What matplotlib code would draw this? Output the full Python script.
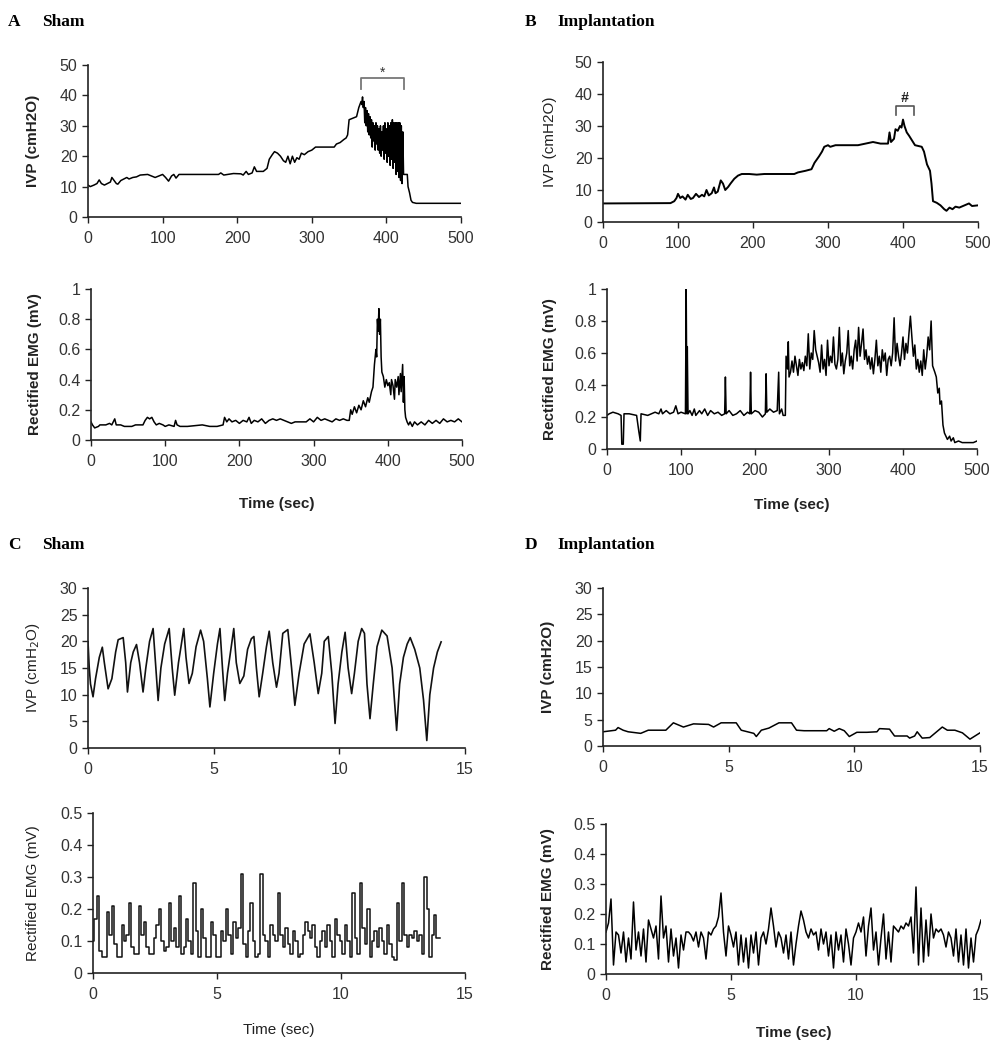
import numpy as np
import matplotlib
matplotlib.use('Agg')
import matplotlib.pyplot as plt
from matplotlib.ticker import FuncFormatter

plt.rcParams['font.family'] = ['Liberation Sans', 'DejaVu Sans']

# ---- A: sham, IVP (cmH2O) vs time (sec) ----
a_ivp_t = [0, 3, 8, 12, 15, 18, 22, 26, 30, 32, 35, 38, 40, 44, 48, 52, 55, 60, 65, 70, 80, 85, 90, 95,
           100, 104, 108, 112, 115, 118, 122, 130, 175, 178, 182, 195, 205, 208, 212, 215, 220, 223, 226,
           235, 240, 243, 247, 250, 254, 258, 262, 265, 268, 271, 274, 277, 280, 283, 286, 290, 295, 300,
           305, 330, 333, 338, 343, 346, 348, 350, 355, 360, 363, 366, 367, 368, 369,
           370, 371, 372, 373, 374, 375, 376, 377, 378, 379, 380, 381, 382, 383, 384, 385, 386, 387, 388,
           389, 390, 391, 392, 393, 394, 395, 396, 397, 398, 399, 400, 401, 402, 403, 404, 405, 406, 407,
           408, 409, 410, 411, 412, 413, 414, 415, 416, 417, 418, 419, 420, 421, 422, 423, 424, 428, 429,
           430, 431, 433, 435, 440, 500]
a_ivp_v = [10.5, 10, 10.5, 11, 12.2, 11, 10.5, 11, 11.5, 13, 12, 11, 10.8, 12, 12.5, 13, 12.5, 13, 13.2, 13.8,
           14, 13.5, 13, 13.5, 14, 13, 11.8, 13.5, 14, 12.8, 14, 14, 14, 14.5, 13.8, 14.3, 14.2, 13.8, 15, 14,
           14.5, 16.5, 15, 15, 16, 19, 20.5, 21.5, 21, 20, 18.5, 18, 20, 17.5, 20, 18, 19.5, 19, 21, 20.5,
           21.5, 22, 23, 23, 24, 24.5, 25.5, 26, 27, 32, 32.5, 33, 36, 38, 37, 39.5, 36,
           38, 31, 36, 30, 35, 28, 34, 27, 33, 26, 32, 23, 31, 25, 30, 22, 31, 24, 30,
           22, 29, 21, 30, 20, 28, 22, 30, 19, 31, 21, 29, 18, 31, 20, 30, 17, 31, 19,
           32, 16, 31, 18, 31, 14, 31, 15, 31, 13, 31, 12, 30, 11, 28, 14, 14, 14, 10,
           9, 8, 5.5, 4.8, 4.5, 4.5]

a_emg_t = [0, 2, 5, 10, 12, 20, 25, 28, 32, 34, 40, 45, 55, 60, 70, 73, 76, 79, 82, 85, 88, 92, 97, 100,
           105, 112, 114, 116, 120, 130, 150, 160, 170, 178, 180, 183, 186, 190, 195, 200, 205, 210, 213,
           216, 220, 225, 230, 235, 240, 245, 250, 255, 260, 265, 270, 275, 280, 290, 295, 300, 305, 310,
           315, 320, 325, 330, 335, 340, 345, 348, 350, 352, 355, 358, 361, 364, 367, 370, 373, 375, 378,
           380, 382, 384, 385, 386, 387, 388, 389, 390, 391, 392, 394, 396, 398, 400, 402, 404, 405, 407,
           409, 410, 412, 414, 415, 417, 418, 420, 421, 422, 423, 424, 426, 428, 430, 433, 436, 440, 445,
           450, 455, 460, 465, 470, 475, 480, 485, 490, 495, 500]
a_emg_v = [0.12, 0.1, 0.08, 0.09, 0.1, 0.1, 0.11, 0.1, 0.14, 0.1, 0.1, 0.09, 0.09, 0.1, 0.1, 0.13, 0.15,
           0.14, 0.15, 0.12, 0.1, 0.11, 0.1, 0.09, 0.1, 0.09, 0.13, 0.1, 0.09, 0.09, 0.1, 0.09, 0.09, 0.1,
           0.15, 0.12, 0.14, 0.12, 0.13, 0.11, 0.13, 0.12, 0.15, 0.11, 0.13, 0.12, 0.14, 0.11, 0.13, 0.14,
           0.13, 0.14, 0.13, 0.12, 0.11, 0.12, 0.12, 0.12, 0.14, 0.12, 0.15, 0.13, 0.14, 0.13, 0.12, 0.14,
           0.13, 0.14, 0.13, 0.13, 0.2, 0.17, 0.22, 0.18, 0.23, 0.2, 0.26, 0.22, 0.28, 0.25, 0.32,
           0.35, 0.5, 0.6, 0.55, 0.8, 0.72, 0.87, 0.7, 0.8, 0.55, 0.45, 0.42, 0.35, 0.4, 0.36, 0.38, 0.3,
           0.4, 0.36, 0.27, 0.4, 0.35, 0.42, 0.3, 0.44, 0.32, 0.5, 0.25, 0.42, 0.2, 0.15, 0.12, 0.1, 0.12,
           0.09, 0.12, 0.1, 0.12, 0.1, 0.13, 0.11, 0.13, 0.11, 0.14, 0.12, 0.13, 0.12, 0.14, 0.12]

# ---- B: implantation ----
b_ivp_t = [0, 90, 95, 98, 100, 103, 106, 110, 113, 117, 120, 124, 128, 132, 135, 138, 141, 145, 148, 150,
           153, 157, 160, 163, 167, 170, 175, 180, 185, 195, 205, 215, 255, 260, 270, 278, 282, 285, 288,
           292, 295, 300, 303, 310, 340, 350, 360, 370, 380, 382, 384, 388, 390, 393, 396, 398, 400, 402,
           405, 408, 412, 416, 425, 428, 432, 436, 438, 440, 445, 450, 455, 458, 462, 466, 470, 475, 480,
           488, 492, 500]
b_ivp_v = [5.8, 5.9, 6.5, 7.5, 8.8, 7.5, 8, 7, 8.5, 7.2, 7.5, 8.8, 7.8, 8.5, 8, 10, 8.3, 9, 10.8, 9,
           9.5, 13, 12, 10, 11, 12, 13.5, 14.5, 15, 15, 14.8, 15, 15, 15.5, 16, 16.5, 18.5, 19.5, 20.5,
           22, 23.5, 24, 23.5, 24, 24, 24.5, 25, 24.5, 24.5, 28, 25, 26, 29, 28.5, 30, 29.5, 32, 30,
           28, 27, 25.5, 24, 23.5, 22, 18, 16, 12, 6.5, 6, 5.2, 4, 3.5, 4.5, 4, 4.8, 4.5, 5,
           5.8, 5, 5.2]

b_emg_t = [0, 3, 8, 15, 19, 20, 22, 23, 30, 40, 43, 45, 46, 55, 60, 65, 70, 73, 75, 80, 85, 90, 93, 96,
           100, 106, 107, 108, 108.5, 109.5, 112, 115, 118, 120, 125, 128, 132, 136, 140, 145, 150, 155,
           159, 160, 161, 165, 170, 175, 180, 185, 190, 193, 194, 195, 200, 205, 210, 214, 215, 216, 220,
           225, 230, 232, 233, 236, 238, 241, 242, 244, 245, 246, 248,
           250, 252, 254, 256, 258, 260, 262, 264, 266, 268, 270, 272, 274, 276, 278, 280, 282, 284, 286,
           288, 290, 292, 294, 296, 298, 300, 302, 304, 306, 308, 310, 312, 314, 316, 318, 320, 322, 324,
           326, 328, 330, 332, 334, 336, 338, 340, 342, 344, 346, 348, 350, 352, 354, 356, 358, 360, 362,
           364, 366, 368, 370, 372, 374, 376, 378, 380, 382, 384, 386, 388, 390, 392, 394, 396, 398, 400,
           402, 404, 406, 408, 410, 412, 414, 416, 418, 420, 422, 424, 426, 428, 430, 432, 434, 436, 438,
           440, 443, 445, 447, 449, 450, 452, 454, 456, 458, 460, 463, 465, 468, 470, 475, 480, 490, 495,
           500]
b_emg_v = [0.21, 0.22, 0.23, 0.22, 0.21, 0.03, 0.03, 0.22, 0.22, 0.21, 0.11, 0.05, 0.22, 0.21, 0.22,
           0.23, 0.22, 0.25, 0.22, 0.24, 0.22, 0.23, 0.27, 0.22, 0.23, 0.22, 1.0, 0.22, 0.64, 0.22, 0.24,
           0.21, 0.25, 0.21, 0.24, 0.22, 0.25, 0.21, 0.24, 0.22, 0.23, 0.21, 0.22, 0.45, 0.22, 0.24, 0.21,
           0.22, 0.24, 0.21, 0.23, 0.22, 0.48, 0.22, 0.24, 0.23, 0.20, 0.22, 0.47, 0.23, 0.25, 0.23, 0.24,
           0.48, 0.22, 0.25, 0.21, 0.21, 0.58, 0.50, 0.67, 0.45, 0.48,
           0.55, 0.48, 0.58, 0.52, 0.46, 0.56, 0.50, 0.54, 0.49, 0.58, 0.52, 0.72, 0.50, 0.60, 0.56, 0.74,
           0.62, 0.58, 0.54, 0.48, 0.65, 0.50, 0.56, 0.46, 0.68, 0.52, 0.58, 0.54, 0.70, 0.53, 0.50, 0.56,
           0.76, 0.52, 0.60, 0.47, 0.55, 0.60, 0.74, 0.52, 0.58, 0.50, 0.62, 0.68, 0.55, 0.76, 0.58, 0.66,
           0.75, 0.56, 0.62, 0.53, 0.58, 0.50, 0.57, 0.47, 0.56, 0.68, 0.52, 0.58, 0.48, 0.62, 0.55, 0.60,
           0.46, 0.56, 0.58, 0.52, 0.60, 0.82, 0.55, 0.66, 0.58, 0.52, 0.60, 0.70, 0.56, 0.66, 0.60, 0.72,
           0.83, 0.70, 0.58, 0.65, 0.50, 0.56, 0.48, 0.55, 0.46, 0.62, 0.50, 0.58, 0.70, 0.62, 0.80,
           0.52, 0.48, 0.45, 0.35, 0.38, 0.28, 0.30, 0.15, 0.10, 0.08, 0.06, 0.08, 0.05, 0.07, 0.04, 0.05,
           0.04, 0.04, 0.04, 0.05]

# ---- C: sham, short time window ----
c_ivp_t = [0.0, 0.05, 0.1, 0.2, 0.3, 0.45, 0.57, 0.65, 0.8, 0.95, 1.1, 1.2, 1.4, 1.5, 1.57, 1.7, 1.8,
           1.93, 2.05, 2.19, 2.3, 2.45, 2.59, 2.7, 2.79, 2.9, 3.05, 3.23, 3.35, 3.45, 3.6, 3.7, 3.81, 3.9,
           4.02, 4.15, 4.3, 4.48, 4.6, 4.75, 4.85, 5.0, 5.15, 5.25, 5.35, 5.44, 5.55, 5.7, 5.8, 5.9, 6.04,
           6.2, 6.35, 6.5, 6.6, 6.7, 6.81, 6.95, 7.1, 7.21, 7.35, 7.5, 7.6, 7.75, 7.95, 8.1, 8.23, 8.4,
           8.6, 8.83, 9.0, 9.16, 9.3, 9.4, 9.56, 9.7, 9.83, 9.95, 10.1, 10.23, 10.35, 10.49, 10.6, 10.75,
           10.89, 11.0, 11.1, 11.22, 11.35, 11.5, 11.69, 11.9, 12.1, 12.28, 12.4, 12.55, 12.7, 12.82,
           13.0, 13.2, 13.35, 13.48, 13.6, 13.75, 13.9, 14.05]
c_ivp_v = [19.9, 15, 12, 9.6, 13, 17, 18.9, 16, 11.1, 13, 18, 20.3, 20.7, 16, 10.5, 16, 18, 19.4, 16,
           10.5, 15, 20, 22.4, 15, 8.9, 15, 19.5, 22.4, 15, 9.9, 16, 19, 22.4, 17, 12.1, 14, 19, 22.1, 20,
           13, 7.7, 14, 19.5, 22.4, 15, 8.9, 14, 19, 22.4, 16, 12.1, 13.5, 18.5, 20.5, 20.9, 15, 9.6, 14,
           19, 21.9, 16, 11.4, 14, 21.5, 22.2, 15, 8.0, 14, 19.5, 21.4, 16, 10.2, 14, 20, 20.9, 14, 4.6,
           12, 18, 21.7, 15, 10.2, 14, 20, 22.4, 21.5, 12, 5.5, 12, 19, 22.1, 21, 15, 3.3, 12, 17, 19.5,
           20.7, 18.5, 15, 9, 1.4, 10, 15, 18, 19.9]

c_emg_t = np.arange(0, 14.05, 0.1)
c_emg_v = [0.10, 0.17, 0.24, 0.07, 0.05, 0.05, 0.19, 0.12, 0.21, 0.09, 0.05, 0.05, 0.15, 0.10, 0.12,
           0.22, 0.08, 0.06, 0.06, 0.21, 0.12, 0.16, 0.08, 0.06, 0.06, 0.11, 0.15, 0.20, 0.10, 0.07,
           0.08, 0.22, 0.10, 0.14, 0.08, 0.24, 0.06, 0.08, 0.17, 0.10, 0.06, 0.28, 0.13, 0.05, 0.20,
           0.11, 0.05, 0.05, 0.16, 0.12, 0.05, 0.05, 0.13, 0.10, 0.20, 0.12, 0.06, 0.16, 0.11, 0.14,
           0.31, 0.09, 0.05, 0.13, 0.22, 0.10, 0.05, 0.06, 0.31, 0.12, 0.10, 0.05, 0.15, 0.12, 0.10,
           0.25, 0.12, 0.08, 0.14, 0.09, 0.06, 0.13, 0.10, 0.05, 0.06, 0.12, 0.16, 0.13, 0.11, 0.15,
           0.08, 0.05, 0.10, 0.13, 0.08, 0.15, 0.10, 0.05, 0.17, 0.12, 0.10, 0.06, 0.15, 0.10, 0.05,
           0.25, 0.11, 0.06, 0.28, 0.14, 0.09, 0.20, 0.05, 0.10, 0.13, 0.08, 0.14, 0.10, 0.06, 0.15,
           0.09, 0.05, 0.04, 0.22, 0.10, 0.28, 0.12, 0.08, 0.12, 0.11, 0.13, 0.10, 0.12, 0.06, 0.30,
           0.20, 0.05, 0.12, 0.18, 0.11, 0.11]

# ---- D: implantation, short time window ----
d_ivp_t = [0, 0.5, 0.6, 0.8, 1.0, 1.5, 1.8, 2.5, 2.8, 3.2, 3.6, 4.2, 4.4, 4.7, 5.3, 5.5, 6.0, 6.1, 6.3,
           6.6, 7.0, 7.5, 7.7, 8.0, 8.9, 9.0, 9.2, 9.4, 9.6, 9.8, 10.1, 10.5, 10.9, 11.0, 11.4, 11.6, 12.1,
           12.2, 12.4, 12.5, 12.7, 13.0, 13.5, 13.7, 14.0, 14.3, 14.6, 15.0]
d_ivp_v = [2.7, 3.0, 3.5, 3.0, 2.7, 2.4, 3.0, 3.0, 4.4, 3.6, 4.2, 4.1, 3.6, 4.4, 4.4, 3.0, 2.4, 1.8, 3.0,
           3.4, 4.4, 4.4, 3.0, 2.9, 2.9, 3.3, 2.8, 3.3, 2.9, 1.8, 2.6, 2.6, 2.7, 3.3, 3.2, 1.9, 1.9, 1.5,
           1.9, 2.7, 1.5, 1.6, 3.6, 3.0, 3.0, 2.5, 1.3, 2.5]

d_emg_t = np.arange(0, 15.05, 0.1)
d_emg_v = [0.14, 0.17, 0.25, 0.03, 0.14, 0.13, 0.07, 0.14, 0.04, 0.12, 0.05, 0.24, 0.08, 0.14, 0.06,
           0.15, 0.04, 0.18, 0.15, 0.12, 0.16, 0.05, 0.26, 0.12, 0.16, 0.04, 0.15, 0.06, 0.12, 0.02,
           0.13, 0.08, 0.14, 0.14, 0.13, 0.11, 0.14, 0.09, 0.14, 0.12, 0.05, 0.14, 0.13, 0.15, 0.16,
           0.19, 0.27, 0.14, 0.06, 0.16, 0.13, 0.09, 0.14, 0.03, 0.13, 0.04, 0.12, 0.02, 0.13, 0.07,
           0.14, 0.03, 0.12, 0.14, 0.10, 0.15, 0.22, 0.16, 0.09, 0.14, 0.12, 0.07, 0.13, 0.05, 0.14,
           0.03, 0.10, 0.16, 0.21, 0.18, 0.14, 0.12, 0.15, 0.13, 0.14, 0.08, 0.15, 0.10, 0.14, 0.06,
           0.13, 0.02, 0.14, 0.08, 0.13, 0.04, 0.15, 0.10, 0.03, 0.12, 0.14, 0.17, 0.14, 0.19, 0.06,
           0.16, 0.22, 0.08, 0.14, 0.03, 0.12, 0.20, 0.05, 0.14, 0.04, 0.16, 0.15, 0.14, 0.16, 0.15,
           0.17, 0.16, 0.19, 0.07, 0.29, 0.03, 0.22, 0.04, 0.18, 0.06, 0.20, 0.12, 0.15, 0.14, 0.15,
           0.13, 0.09, 0.14, 0.12, 0.06, 0.15, 0.04, 0.13, 0.03, 0.15, 0.02, 0.12, 0.04, 0.13, 0.15,
           0.18]

FW, FH = 1000, 1050
fig = plt.figure(figsize=(10, 10.5), dpi=100)
fmt = FuncFormatter(lambda v, p: '%g' % round(v, 2))


def make_ax(l, r, t, b, xmax, xstep, ymax, ystep, ylabel, ylab_px, bold, xlabel=None, xlab_py=None):
    ax = fig.add_axes([l / FW, 1 - b / FH, (r - l) / FW, (b - t) / FH])
    ax.set_xlim(0, xmax)
    ax.set_ylim(0, ymax)
    ax.set_xticks(np.arange(0, xmax + xstep / 2, xstep))
    ax.set_yticks(np.arange(0, ymax + ystep / 2, ystep))
    ax.xaxis.set_major_formatter(fmt)
    ax.yaxis.set_major_formatter(fmt)
    for s in ['top', 'right']:
        ax.spines[s].set_visible(False)
    for s in ['left', 'bottom']:
        ax.spines[s].set_color('#222222')
        ax.spines[s].set_linewidth(1.2)
    ax.tick_params(direction='out', length=4, width=1, colors='#222222', labelcolor='#333333',
                   labelsize=11.5)
    ax.tick_params(axis='x', pad=6)
    w = 'bold' if bold else 'normal'
    ax.set_ylabel(ylabel, fontsize=11, fontweight=w, color='#222222')
    ax.yaxis.set_label_coords((ylab_px - l) / (r - l), 0.5)
    if xlabel:
        ax.set_xlabel(xlabel, fontsize=11, fontweight=w, color='#222222')
        ax.xaxis.set_label_coords(0.5, (b - xlab_py) / (b - t))
    return ax


lw = 1.1
# A
ax = make_ax(88, 461, 65, 217, 500, 100, 50, 10, 'IVP (cmH2O)', 40, True)
ax.plot(a_ivp_t, a_ivp_v, color='black', lw=lw)
ax.plot([366, 366, 424, 424], [42, 45.7, 45.7, 42], color='#777777', lw=1.3, clip_on=False)
ax.text(395, 47.5, '*', ha='center', va='center', fontsize=10, color='#333333')

ax = make_ax(91, 462, 289, 440, 500, 100, 1, 0.2, 'Rectified EMG (mV)', 42, True, 'Time (sec)', 497)
ax.plot(a_emg_t, a_emg_v, color='black', lw=lw)

# B
ax = make_ax(603, 978, 62, 222, 500, 100, 50, 10, 'IVP (cmH2O)', 557, False)
ax.plot(b_ivp_t, b_ivp_v, color='black', lw=1.4)
ax.plot([391, 391, 414, 414], [33.5, 36.3, 36.3, 33.5], color='#555555', lw=1.2, clip_on=False)
ax.text(402, 38.6, '#', ha='center', va='center', fontsize=10, fontweight='bold', style='italic',
        color='#222222')

ax = make_ax(607, 977, 289, 449, 500, 100, 1, 0.2, 'Rectified EMG (mV)', 557, True, 'Time (sec)', 498)
ax.plot(b_emg_t, b_emg_v, color='black', lw=lw)

# C
ax = make_ax(88, 465, 588, 748, 15, 5, 30, 5, 'IVP (cmH$_2$O)', 42, False)
ax.plot(c_ivp_t, c_ivp_v, color='#111111', lw=1.2)

ax = make_ax(93, 465, 813, 973, 15, 5, 0.5, 0.1, 'Rectified EMG (mV)', 40, False, 'Time (sec)', 1023)
ax.plot(c_emg_t, c_emg_v, color='#111111', lw=lw, drawstyle='steps-mid')

# D
ax = make_ax(603, 980, 588, 746, 15, 5, 30, 5, 'IVP (cmH2O)', 555, True)
ax.plot(d_ivp_t, d_ivp_v, color='black', lw=lw)

ax = make_ax(606, 981, 824, 974, 15, 5, 0.5, 0.1, 'Rectified EMG (mV)', 555, True, 'Time (sec)', 1026)
ax.plot(d_emg_t, d_emg_v, color='black', lw=lw)

# panel titles
serif = ['Liberation Serif', 'DejaVu Serif']
for x0, x1, y, letter, name in [(8, 42, 22, 'A', 'Sham'), (525, 557, 22, 'B', 'Implantation'),
                                (8, 42, 545, 'C', 'Sham'), (525, 557, 545, 'D', 'Implantation')]:
    fig.text(x0 / FW, 1 - y / FH, letter, family=serif, fontweight='bold', fontsize=12.5, va='center')
    fig.text(x1 / FW, 1 - y / FH, name, family=serif, fontweight='bold', fontsize=12.5, va='center')

fig.savefig('out.png', dpi=100)
